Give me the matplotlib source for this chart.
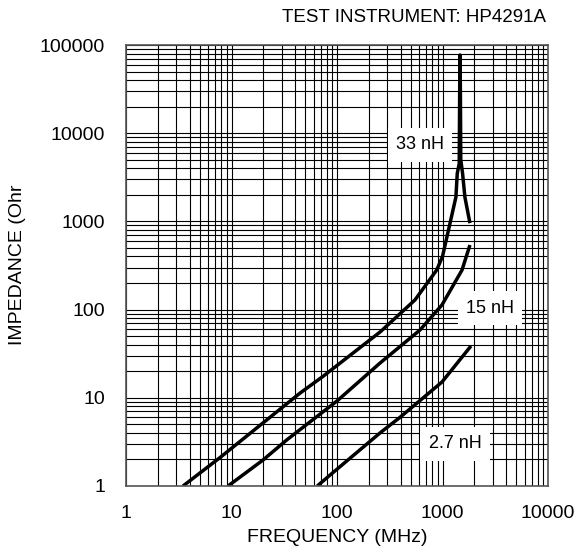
"""
Impedance vs frequency for three chip inductors (log-log chart)
"""

import matplotlib
matplotlib.use('Agg')
import matplotlib.pyplot as plt
from matplotlib.ticker import FixedLocator, LogLocator, NullFormatter

plt.rcParams['font.family'] = ['Liberation Sans', 'DejaVu Sans']

# values (MHz, Ohm)
freq_33nh = [3.47, 7.78, 44.6, 73.7, 256, 548, 881, 1000, 1178, 1340, 1380, 1440, 1455,
             1466, 1478, 1490, 1550, 1630, 1820]
imp_33nh = [1.0, 2.1, 11.3, 17.5, 55.7, 128.5, 281, 400, 951, 1890, 3500, 4500, 30000,
            77000, 30000, 5000, 3500, 1890, 955]

freq_15nh = [9.27, 19.9, 33.6, 100, 256, 612, 989, 1531, 1820]
imp_15nh = [1.0, 1.97, 3.35, 9.2, 24.8, 58.7, 113, 281, 540]

freq_2n7 = [65, 85.9, 256, 395, 989, 1862]
imp_2n7 = [1.0, 1.33, 4.0, 6.0, 15.1, 38.7]

x_ticks = [1, 10, 100, 1000, 10000]
x_labels = ['1', '10', '100', '1000', '10000']
y_ticks = [1, 10, 100, 1000, 10000, 100000]
y_labels = ['1', '10', '100', '1000', '10000', '100000']

fig = plt.figure(figsize=(5.81, 5.52), dpi=100)
ax = fig.add_axes([126 / 581, 1 - 486 / 552, 422 / 581, 441 / 552])

ax.set_xscale('log')
ax.set_yscale('log')
ax.set_xlim(1, 10000)
ax.set_ylim(1, 100000)

# grid: decades plus 2..9 subdivisions, all in black
ax.xaxis.set_major_locator(FixedLocator(x_ticks))
ax.yaxis.set_major_locator(FixedLocator(y_ticks))
ax.xaxis.set_minor_locator(LogLocator(base=10, subs=range(2, 10)))
ax.yaxis.set_minor_locator(LogLocator(base=10, subs=range(2, 10)))
ax.xaxis.set_minor_formatter(NullFormatter())
ax.yaxis.set_minor_formatter(NullFormatter())
ax.set_xticklabels(x_labels)
ax.set_yticklabels(y_labels)
ax.grid(which='both', color='black', linewidth=0.8)
ax.set_axisbelow(True)
ax.tick_params(which='both', length=0)
ax.tick_params(axis='x', pad=14, labelsize=14)
ax.tick_params(axis='y', pad=15, labelsize=14)
for sp in ax.spines.values():
    sp.set_color('#555555')
    sp.set_linewidth(1.2)

# curves
ax.plot(freq_33nh, imp_33nh, color='black', linewidth=2.5, solid_capstyle='butt')
ax.plot(freq_15nh, imp_15nh, color='black', linewidth=2.5, solid_capstyle='butt')
ax.plot(freq_2n7, imp_2n7, color='black', linewidth=2.5, solid_capstyle='butt')

box = dict(facecolor='white', edgecolor='none', pad=6)
ax.text(612, 7350, '33 nH', fontsize=13, ha='center', va='center', bbox=box)
ax.text(2820, 104, '15 nH', fontsize=13, ha='center', va='center', bbox=box)
ax.text(1313, 3.0, '2.7 nH', fontsize=13, ha='center', va='center', bbox=box)

fig.text(546 / 581, 1 - 18 / 552, 'TEST INSTRUMENT: HP4291A', fontsize=13.5,
         ha='right', va='center')
fig.text(337 / 581, 1 - 537 / 552, 'FREQUENCY (MHz)', fontsize=14,
         ha='center', va='center')
fig.text(18 / 581, 1 - 265 / 552, 'IMPEDANCE (Ohr', fontsize=14, rotation=90,
         ha='center', va='center')

fig.savefig('out.png', dpi=100)
